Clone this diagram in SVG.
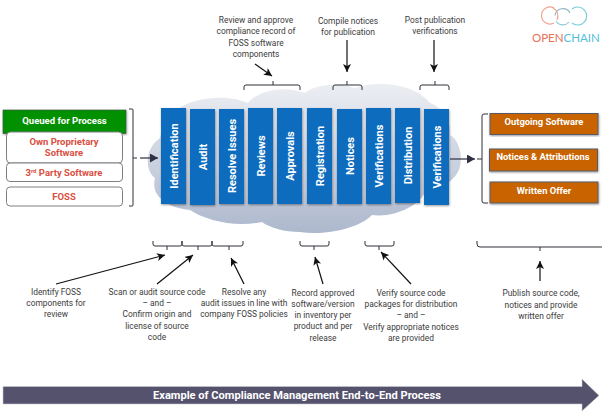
<svg xmlns="http://www.w3.org/2000/svg" width="602" height="412" viewBox="0 0 602 412">
<style>
text{font-family:Roboto,"Liberation Sans",sans-serif}
.cap{font-size:8.4px;fill:#3c3c3c;text-anchor:middle;font-weight:400}
.bar{fill:#0b6cbd;filter:url(#sh)}
.bl{font-size:11px;font-weight:700;fill:#fff;text-anchor:middle}
.or{fill:#c86400;stroke:#565a68;stroke-width:1;filter:url(#sh)}
.ol{font-size:9.4px;font-weight:700;fill:#fff;text-anchor:middle}
.wh{fill:#fff;stroke:#7f7f85;stroke-width:1}
.rl{font-size:9.5px;font-weight:700;fill:#d9503f;text-anchor:middle}
.br{fill:none;stroke:#2f3038;stroke-width:1}
.ar{stroke:#111;stroke-width:1.2;fill:none;marker-end:url(#ah)}
.ar2{stroke:#2f3044;stroke-width:1.2;fill:none;marker-end:url(#ah2)}
</style>
<defs>
<linearGradient id="cg" x1="0" y1="0" x2="0" y2="1"><stop offset="0" stop-color="#eceef3"/><stop offset="1" stop-color="#adb8cd"/></linearGradient>
<filter id="sh" x="-10%" y="-10%" width="125%" height="120%"><feDropShadow dx="0.5" dy="1" stdDeviation="0.8" flood-color="#000" flood-opacity="0.4"/></filter>
<marker id="ah" markerWidth="9" markerHeight="8" refX="8" refY="4" orient="auto" markerUnits="userSpaceOnUse"><path d="M0 0L8 4L0 8L2 4Z" fill="#111"/></marker>
<marker id="ah2" markerWidth="9" markerHeight="9" refX="8" refY="4.5" orient="auto" markerUnits="userSpaceOnUse"><path d="M0 0L8 4.500L0 9Z" fill="#2f3044"/></marker>
</defs>

<g id="cloud"><path d="M160 138C165 120 175 100 215 98C230 97 240 100 248 103C258 90 285 85 305 93C315 85 335 82 355 88C375 80 415 83 430 103C445 108 452 125 450 135C460 140 464 160 458 172C452 182 440 190 425 192C420 205 395 218 372 215C360 228 325 236 300 232C285 232 270 228 262 222C235 228 205 220 190 210C170 208 150 198 155 178C146 172 143 150 160 138Z" fill="url(#cg)"/></g>

<g id="input-panel">
<rect x="3" y="110" width="123" height="23.500" fill="#009000" stroke="#3f4a3f" stroke-width="0.600" filter="url(#sh)"/>
<text x="64.500" y="121.500" font-size="9.500" font-weight="700" fill="#fff" text-anchor="middle" dominant-baseline="middle">Queued for Process</text>
<rect class="wh" x="6.500" y="132" width="116" height="31" rx="4"/>
<text class="rl" x="64" y="145">Own Proprietary</text><text class="rl" x="64" y="156">Software</text>
<rect class="wh" x="6.500" y="163" width="116" height="18.500" rx="3.500"/>
<text class="rl" x="64" y="175.500">3<tspan font-size="6" dy="-3">rd</tspan><tspan dy="3"> Party Software</tspan></text>
<rect class="wh" x="6.500" y="187" width="116" height="19" rx="3.500"/>
<text class="rl" x="64" y="199.500">FOSS</text>
</g>

<g id="stage-identification"><rect class="bar" x="161" y="108" width="25" height="96"/><text class="bl" transform="translate(177.500 156) rotate(-90)">Identification</text></g>
<g id="stage-audit"><rect class="bar" x="190" y="109" width="25" height="96"/><text class="bl" transform="translate(206.500 157) rotate(-90)">Audit</text></g>
<g id="stage-resolve"><rect class="bar" x="219" y="109" width="25" height="95"/><text class="bl" transform="translate(235.500 156) rotate(-90)">Resolve Issues</text></g>
<g id="stage-reviews"><rect class="bar" x="248" y="108" width="25" height="96"/><text class="bl" transform="translate(264.500 156) rotate(-90)">Reviews</text></g>
<g id="stage-approvals"><rect class="bar" x="277" y="108" width="25" height="96"/><text class="bl" transform="translate(293.500 156) rotate(-90)">Approvals</text></g>
<g id="stage-registration"><rect class="bar" x="307" y="108" width="25" height="96"/><text class="bl" transform="translate(323.500 156) rotate(-90)">Registration</text></g>
<g id="stage-notices"><rect class="bar" x="337" y="109" width="25" height="95"/><text class="bl" transform="translate(353.500 156) rotate(-90)">Notices</text></g>
<g id="stage-verifications-1"><rect class="bar" x="366" y="108" width="25" height="96"/><text class="bl" transform="translate(382.500 156) rotate(-90)">Verifications</text></g>
<g id="stage-distribution"><rect class="bar" x="395" y="108" width="25" height="95"/><text class="bl" transform="translate(411.500 155.500) rotate(-90)">Distribution</text></g>
<g id="stage-verifications-2"><rect class="bar" x="424" y="109" width="25" height="96"/><text class="bl" transform="translate(440.500 157) rotate(-90)">Verifications</text></g>

<g id="output-outgoing"><rect class="or" x="490" y="113.500" width="108" height="21"/><text class="ol" x="544" y="125">Outgoing Software</text></g>
<g id="output-notices"><rect class="or" x="489.500" y="149" width="108" height="22"/><text class="ol" x="543" y="160">Notices &amp; Attributions</text></g>
<g id="output-offer"><rect class="or" x="490" y="182" width="108" height="21"/><text class="ol" x="544" y="194">Written Offer</text></g>

<g id="connectors">
<path class="br" d="M129 109H132Q133 109 133 110V205Q133 206 132 206H129M133 158H137"/>
<path class="ar2" d="M140 158H158"/>
<path class="ar2" d="M450 159H475"/>
<path class="br" d="M488 114H484Q482 114 482 116V201Q482 203 484 203H488M482 159H477"/>
<path class="br" d="M244 90V87Q244 85 246 85H298Q300 85 300 87V90M273 85V81"/>
<path class="br" d="M333 90V87Q333 85 335 85H360Q362 85 362 87V90M347 85V81"/>
<path class="br" d="M420 90V87Q420 85 422 85H447Q449 85 449 87V90M435 85V81"/>
<path class="br" d="M153 241V244Q153 246 155 246H180Q182 246 182 244V241M167 246V250"/>
<path class="br" d="M182 241V244Q182 246 184 246H210Q212 246 212 244V241M198 246V250"/>
<path class="br" d="M212 241V244Q212 246 214 246H241Q243 246 243 244V241M229 246V250"/>
<path class="br" d="M300 241V244Q300 246 302 246H327Q329 246 329 244V241M314 246V250"/>
<path class="br" d="M365 241V244Q365 246 367 246H392Q394 246 394 244V241M379 246V250"/>
<path class="br" d="M477 241V244Q477 247 480 247H602M540 247V251"/>
<path class="ar" d="M255 64L272 76"/>
<path class="ar" d="M347 40V72"/>
<path class="ar" d="M434 40V72"/>
<path class="ar" d="M56 284L165 255"/>
<path class="ar" d="M157 284L193 255"/>
<path class="ar" d="M244 284L231 258"/>
<path class="ar" d="M323 284L315 257"/>
<path class="ar" d="M411 284L381 252"/>
<path class="ar" d="M540 281V261"/>
</g>

<g id="captions">
<text class="cap" x="256" y="23">Review and approve</text><text class="cap" x="256" y="34">compliance record of</text><text class="cap" x="256" y="46">FOSS software</text><text class="cap" x="256" y="57">components</text>
<text class="cap" x="348" y="24">Compile notices</text><text class="cap" x="348" y="35">for publication</text>
<text class="cap" x="435" y="23">Post publication</text><text class="cap" x="435" y="34">verifications</text>
<text class="cap" x="56" y="295">Identify FOSS</text><text class="cap" x="56" y="306">components for</text><text class="cap" x="56" y="317">review</text>
<text class="cap" x="157" y="295">Scan or audit source code</text><text class="cap" x="157" y="306">– and –</text><text class="cap" x="157" y="317">Confirm origin and</text><text class="cap" x="157" y="329">license of source</text><text class="cap" x="157" y="340">code</text>
<text class="cap" x="244" y="295">Resolve any</text><text class="cap" x="244" y="306">audit issues in line with</text><text class="cap" x="244" y="317">company FOSS policies</text>
<text class="cap" x="323" y="296">Record approved</text><text class="cap" x="323" y="307">software/version</text><text class="cap" x="323" y="318">in inventory per</text><text class="cap" x="323" y="329">product and per</text><text class="cap" x="323" y="341">release</text>
<text class="cap" x="411" y="296">Verify source code</text><text class="cap" x="411" y="307">packages for distribution</text><text class="cap" x="411" y="318">– and –</text><text class="cap" x="411" y="330">Verify appropriate notices</text><text class="cap" x="411" y="341">are provided</text>
<text class="cap" x="541" y="296">Publish source code,</text><text class="cap" x="541" y="308">notices and provide</text><text class="cap" x="541" y="319">written offer</text>
</g>

<g id="logo" fill="none" stroke-width="1.100">
<path d="M554 8A8.500 8.500 0 1 0 554 23" stroke="#f0a08c"/>
<path d="M555 15.500A8 8 0 0 1 570 13" stroke="#8fb5c4"/>
<path d="M556 21A8 8 0 0 0 569 22" stroke="#8fc8d6"/>
<path d="M553 8A9 9 0 0 1 557 20" stroke="#f0a08c"/>
<path d="M572 9A9 9 0 1 1 572 23" stroke="#72cbdb"/>
<text x="532" y="41.500" font-size="11.500" stroke="none" fill="#ea6f52" style="font-family:Lato,sans-serif">OPEN<tspan fill="#4fc0d6">CHAIN</tspan></text>
</g>

<g id="timeline">
<path d="M3 386.500H582V379L599 395.500L582 411V404H3Z" fill="#55526d" stroke="#c9c9cf" stroke-width="0.600"/>
<text x="297" y="399" font-size="11.100" font-weight="700" fill="#fff" text-anchor="middle">Example of Compliance Management End-to-End Process</text>
</g>
</svg>
